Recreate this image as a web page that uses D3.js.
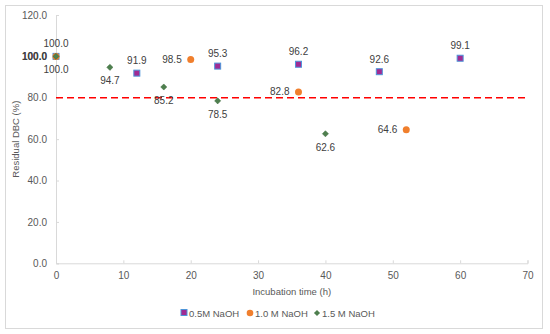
<!DOCTYPE html>
<html>
<head>
<meta charset="utf-8">
<script src="https://cdn.jsdelivr.net/npm/d3@7"></script>
<style>
  body { margin: 0; background: #fff; }
  text { font-family: "Liberation Sans", Arial, sans-serif; }
</style>
</head>
<body>
<div id="chart"></div>
<script>
const xTicks = [0, 10, 20, 30, 40, 50, 60, 70];
const yTicks = [0, 20, 40, 60, 80, 100, 120];

const series05Time = [0, 12, 24, 36, 48, 60];
const series05Value = [100.0, 91.9, 95.3, 96.2, 92.6, 99.1];
const series10Time = [0, 20, 36, 52];
const series10Value = [100.0, 98.5, 82.8, 64.6];
const series15Time = [0, 8, 16, 24, 40];
const series15Value = [100.0, 94.7, 85.2, 78.5, 62.6];
const seriesNames = ["0.5M NaOH", "1.0 M NaOH", "1.5 M NaOH"];
const threshold = 80;

const width = 550;
const height = 334;
const margin = { top: 15, right: 23, bottom: 71, left: 56 };

const svg = d3.select("#chart").append("svg")
  .attr("width", width).attr("height", height);

svg.append("rect")
  .attr("x", 5.5).attr("y", 5.5)
  .attr("width", 537).attr("height", 323)
  .attr("fill", "#fff").attr("stroke", "#d9d9d9").attr("stroke-width", 1);

const x = d3.scaleLinear().domain([0, 70]).range([margin.left, width - margin.right + 0.5]);
const y = d3.scaleLinear().domain([0, 120]).range([height - margin.bottom + 0.3, margin.top]);

// axes
const xAxis = svg.append("g")
  .attr("transform", `translate(0,${y(0)})`)
  .call(d3.axisBottom(x).tickValues(xTicks).tickFormat(d3.format("d")).tickSize(-3).tickPadding(9));
const yAxis = svg.append("g")
  .attr("transform", `translate(${x(0)},0)`)
  .call(d3.axisLeft(y).tickValues(yTicks).tickFormat(d3.format(".1f")).tickSize(-3).tickPadding(9));

[xAxis, yAxis].forEach(g => {
  g.select(".domain").attr("stroke", "#d9d9d9");
  g.selectAll(".tick line").attr("stroke", "#d9d9d9");
  g.selectAll(".tick text").attr("fill", "#595959").attr("font-size", 10)
    .attr("font-family", "Liberation Sans, Arial, sans-serif");
});

// axis titles
svg.append("text")
  .attr("x", x(35)).attr("y", 295)
  .attr("text-anchor", "middle").attr("font-size", 9.5).attr("fill", "#595959")
  .text("Incubation time (h)");
svg.append("text")
  .attr("transform", `translate(19,${(y(0) + y(120)) / 2}) rotate(-90)`)
  .attr("text-anchor", "middle").attr("font-size", 9.5).attr("fill", "#595959")
  .text("Residual DBC (%)");

// threshold line
svg.append("line")
  .attr("x1", x(0)).attr("x2", x(69.7))
  .attr("y1", y(threshold)).attr("y2", y(threshold))
  .attr("stroke", "#ff0000").attr("stroke-width", 1.5)
  .attr("stroke-dasharray", "7,4");

const labelColor = "#404040";
const fmt = d3.format(".1f");

// 0.5M - squares
const s05 = series05Time.map((t, i) => ({ t, v: series05Value[i] }));
svg.append("g").selectAll("rect").data(s05).enter().append("rect")
  .attr("x", d => x(d.t) - 3).attr("y", d => y(d.v) - 3)
  .attr("width", 6).attr("height", 6)
  .attr("fill", "#a02b93").attr("stroke", "#4e95d9").attr("stroke-width", 1);
svg.append("g").selectAll("text").data(s05).enter().append("text")
  .attr("x", d => x(d.t)).attr("y", d => y(d.v) - 9)
  .attr("text-anchor", "middle").attr("font-size", 10).attr("fill", labelColor)
  .text(d => fmt(d.v));

// 1.0M - circles
const s10 = series10Time.map((t, i) => ({ t, v: series10Value[i] }));
svg.append("g").selectAll("circle").data(s10).enter().append("circle")
  .attr("cx", d => x(d.t)).attr("cy", d => y(d.v)).attr("r", 3.5)
  .attr("fill", "#f07f2d");
svg.append("g").selectAll("text").data(s10).enter().append("text")
  .attr("x", d => x(d.t) - 9).attr("y", d => y(d.v) + 3.5)
  .attr("text-anchor", "end").attr("font-size", 10).attr("fill", labelColor)
  .attr("font-weight", (d, i) => i === 0 ? "bold" : "normal")
  .text(d => fmt(d.v));

// 1.5M - diamonds
const s15 = series15Time.map((t, i) => ({ t, v: series15Value[i] }));
const diamond = d3.symbol().type(d3.symbolDiamond2).size(24);
svg.append("g").selectAll("path").data(s15).enter().append("path")
  .attr("transform", d => `translate(${x(d.t)},${y(d.v)})`)
  .attr("d", diamond)
  .attr("fill", "#4e7f4e").attr("stroke", "#3a6a3a").attr("stroke-width", 0.5);
svg.append("g").selectAll("text").data(s15).enter().append("text")
  .attr("x", d => x(d.t)).attr("y", d => y(d.v) + 17)
  .attr("text-anchor", "middle").attr("font-size", 10).attr("fill", labelColor)
  .text(d => fmt(d.v));

// legend
const legend = svg.append("g").attr("transform", "translate(0,313)");
const legendX = [181, 247, 314];
seriesNames.forEach((name, i) => {
  const g = legend.append("g").attr("transform", `translate(${legendX[i]},0)`);
  if (i === 0) {
    g.append("rect").attr("x", 0).attr("y", -3.5).attr("width", 6).attr("height", 6)
      .attr("fill", "#a02b93").attr("stroke", "#4e95d9");
  } else if (i === 1) {
    g.append("circle").attr("cx", 3).attr("cy", 0).attr("r", 3.3).attr("fill", "#f07f2d");
  } else {
    g.append("path").attr("transform", "translate(3,0)").attr("d", diamond)
      .attr("fill", "#4e7f4e");
  }
  g.append("text").attr("x", 8).attr("y", 3.5)
    .attr("font-size", 9.5).attr("fill", "#595959").text(name);
});
</script>
</body>
</html>
